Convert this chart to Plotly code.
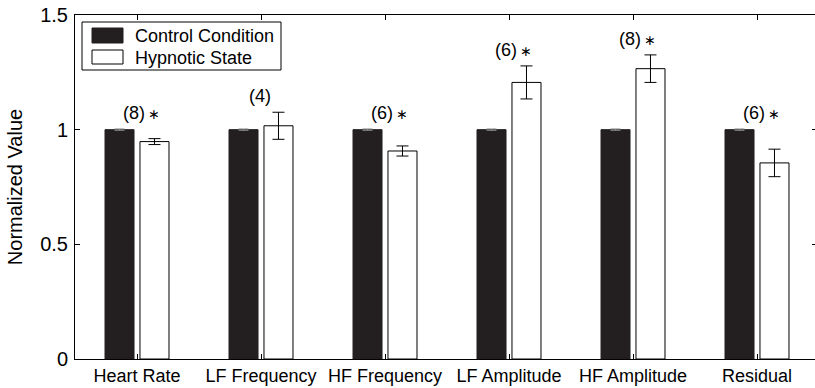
import plotly.graph_objects as go

categories = ["Heart Rate", "LF Frequency", "HF Frequency", "LF Amplitude", "HF Amplitude", "Residual"]
control_values = [1.0, 1.0, 1.0, 1.0, 1.0, 1.0]
control_errors = [0.003, 0.003, 0.003, 0.003, 0.003, 0.003]
hypnotic_values = [0.948, 1.017, 0.907, 1.206, 1.266, 0.855]
hypnotic_errors = [0.013, 0.059, 0.022, 0.072, 0.060, 0.060]
sample_labels = ["(8)", "(4)", "(6)", "(6)", "(8)", "(6)"]
significant = [True, False, True, True, True, True]
y_ticks = [0, 0.5, 1, 1.5]
y_tick_labels = ["0", "0.5", "1", "1.5"]

W, H = 817, 388
ML, MR, MT, MB = 75, 0, 15, 29
PW, PH = W - ML - MR, H - MT - MB
FONT = "Liberation Sans, Arial, Helvetica, sans-serif"
DARK = "#231f20"

xpos = list(range(1, len(categories) + 1))
bar_w = 0.234

fig = go.Figure()
fig.add_trace(go.Bar(
    x=xpos, y=control_values, width=bar_w, offset=-0.258,
    marker=dict(color=DARK, line=dict(color=DARK, width=1)),
    error_y=dict(type="data", array=control_errors, color="#888888", thickness=1, width=5),
    name="Control Condition", showlegend=False,
))
fig.add_trace(go.Bar(
    x=xpos, y=hypnotic_values, width=bar_w, offset=0.024,
    marker=dict(color="white", line=dict(color="black", width=1)),
    error_y=dict(type="data", array=hypnotic_errors, color="black", thickness=1, width=6),
    name="Hypnotic State", showlegend=False,
))

# annotations above each group
for i, (lab, sig) in enumerate(zip(sample_labels, significant)):
    top = max(control_values[i] + control_errors[i], hypnotic_values[i] + hypnotic_errors[i])
    txt = lab + ("<span style='font-size:14px'>\u2009∗</span>" if sig else "")
    fig.add_annotation(
        x=xpos[i], y=top, xref="x", yref="y", text=txt, showarrow=False,
        xanchor="center", yanchor="bottom", yshift=4, xshift=(4 if sig else -1),
        font=dict(family=FONT, size=18, color="black"),
    )

# manual legend
def px_x(p):
    return (p - ML) / PW

def px_y(p):
    return (H - MB - p) / PH

fig.add_shape(type="rect", xref="paper", yref="paper",
              x0=px_x(82), x1=px_x(281), y0=px_y(70), y1=px_y(22),
              line=dict(color="black", width=1), fillcolor="white", layer="above")
fig.add_shape(type="rect", xref="paper", yref="paper",
              x0=px_x(92), x1=px_x(123), y0=px_y(43), y1=px_y(28),
              line=dict(color=DARK, width=1), fillcolor=DARK, layer="above")
fig.add_shape(type="rect", xref="paper", yref="paper",
              x0=px_x(92), x1=px_x(123), y0=px_y(64), y1=px_y(50),
              line=dict(color="black", width=1), fillcolor="white", layer="above")
for name, yc in [("Control Condition", 35.5), ("Hypnotic State", 57.5)]:
    fig.add_annotation(x=px_x(133), y=px_y(yc), xref="paper", yref="paper",
                       text=name, showarrow=False, xanchor="left", yanchor="middle",
                       font=dict(family=FONT, size=18, color="black"))

fig.update_layout(
    width=W, height=H,
    margin=dict(l=ML, r=MR, t=MT, b=MB, pad=0),
    paper_bgcolor="white", plot_bgcolor="white",
    barmode="overlay",
    font=dict(family=FONT, size=18, color="black"),
    showlegend=False,
)
fig.update_xaxes(
    range=[0.5, 0.5 + PW / 124.0],
    tickmode="array", tickvals=xpos, ticktext=categories,
    ticks="inside", ticklen=5, tickcolor="black", tickwidth=1,
    showline=True, linecolor="black", linewidth=1, mirror="ticks",
    showgrid=False, zeroline=False,
    tickfont=dict(family=FONT, size=18, color="black"),
)
fig.update_yaxes(
    range=[0, 1.5],
    tickmode="array", tickvals=y_ticks, ticktext=y_tick_labels,
    ticks="inside", ticklen=5, tickcolor="black", tickwidth=1,
    showline=True, linecolor="black", linewidth=1, mirror="ticks",
    showgrid=False, zeroline=False,
    tickfont=dict(family=FONT, size=20, color="black"),
    ticklabelstandoff=2,
    title=dict(text="Normalized Value", font=dict(family=FONT, size=20, color="black"), standoff=12),
)

fig.write_html("out.html", config={"displayModeBar": False},
               post_script="document.body.style.margin='0';document.body.style.overflow='hidden';")
